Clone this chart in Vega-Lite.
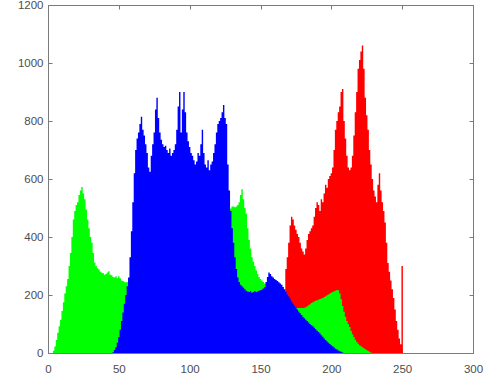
{
  "$schema": "https://vega.github.io/schema/vega-lite/v6.json",
  "width": 425,
  "height": 348,
  "autosize": {"type": "none"},
  "padding": {"left": 48, "top": 5, "right": 28, "bottom": 36},
  "background": "white",
  "config": {
    "view": {"stroke": "#7a7a7a", "strokeWidth": 1},
    "axis": {
      "grid": false, "domain": true, "domainColor": "#7a7a7a", "domainWidth": 1, "tickColor": "#7a7a7a", "tickSize": -4,
      "labelColor": "#4d4d4d", "labelFont": "Liberation Sans", "labelFontSize": 11.5, "title": null, "format": "d",
      "labelFlush": false, "labelOverlap": false
    }
  },
  "data": {"values": [
{"x":0,"r":0,"g":0,"b":0},{"x":1,"r":0,"g":0,"b":0},{"x":2,"r":0,"g":0,"b":0},{"x":3,"r":0,"g":0,"b":0},
{"x":4,"r":0,"g":8,"b":0},{"x":5,"r":0,"g":22,"b":0},{"x":6,"r":0,"g":45,"b":0},{"x":7,"r":0,"g":70,"b":0},
{"x":8,"r":0,"g":92,"b":0},{"x":9,"r":0,"g":115,"b":0},{"x":10,"r":0,"g":145,"b":0},{"x":11,"r":0,"g":175,"b":0},
{"x":12,"r":0,"g":205,"b":0},{"x":13,"r":0,"g":230,"b":0},{"x":14,"r":0,"g":255,"b":0},{"x":15,"r":0,"g":300,"b":0},
{"x":16,"r":0,"g":345,"b":0},{"x":17,"r":0,"g":400,"b":0},{"x":18,"r":0,"g":460,"b":0},{"x":19,"r":0,"g":490,"b":0},
{"x":20,"r":0,"g":510,"b":0},{"x":21,"r":0,"g":520,"b":0},{"x":22,"r":0,"g":545,"b":0},{"x":23,"r":0,"g":560,"b":0},
{"x":24,"r":0,"g":572,"b":0},{"x":25,"r":0,"g":550,"b":0},{"x":26,"r":0,"g":530,"b":0},{"x":27,"r":0,"g":495,"b":0},
{"x":28,"r":0,"g":460,"b":0},{"x":29,"r":0,"g":430,"b":0},{"x":30,"r":0,"g":400,"b":0},{"x":31,"r":0,"g":380,"b":0},
{"x":32,"r":0,"g":345,"b":0},{"x":33,"r":0,"g":312,"b":0},{"x":34,"r":0,"g":300,"b":0},{"x":35,"r":0,"g":292,"b":0},
{"x":36,"r":0,"g":288,"b":0},{"x":37,"r":0,"g":280,"b":0},{"x":38,"r":0,"g":277,"b":0},{"x":39,"r":0,"g":275,"b":0},
{"x":40,"r":0,"g":270,"b":0},{"x":41,"r":0,"g":272,"b":0},{"x":42,"r":0,"g":278,"b":0},{"x":43,"r":0,"g":282,"b":0},
{"x":44,"r":0,"g":270,"b":0},{"x":45,"r":0,"g":268,"b":0},{"x":46,"r":0,"g":262,"b":3},{"x":47,"r":0,"g":260,"b":10},
{"x":48,"r":0,"g":265,"b":20},{"x":49,"r":0,"g":258,"b":35},{"x":50,"r":0,"g":265,"b":55},{"x":51,"r":0,"g":258,"b":80},
{"x":52,"r":0,"g":250,"b":110},{"x":53,"r":0,"g":248,"b":140},{"x":54,"r":0,"g":245,"b":170},{"x":55,"r":0,"g":243,"b":200},
{"x":56,"r":0,"g":245,"b":230},{"x":57,"r":0,"g":248,"b":260},{"x":58,"r":0,"g":250,"b":330},{"x":59,"r":0,"g":252,"b":420},
{"x":60,"r":0,"g":255,"b":520},{"x":61,"r":0,"g":258,"b":620},{"x":62,"r":0,"g":260,"b":700},{"x":63,"r":0,"g":262,"b":740},
{"x":64,"r":0,"g":265,"b":760},{"x":65,"r":0,"g":268,"b":790},{"x":66,"r":0,"g":270,"b":815},{"x":67,"r":0,"g":272,"b":770},
{"x":68,"r":0,"g":275,"b":750},{"x":69,"r":0,"g":278,"b":720},{"x":70,"r":0,"g":280,"b":690},{"x":71,"r":0,"g":282,"b":640},
{"x":72,"r":0,"g":285,"b":625},{"x":73,"r":0,"g":288,"b":680},{"x":74,"r":0,"g":290,"b":720},{"x":75,"r":0,"g":292,"b":760},
{"x":76,"r":0,"g":295,"b":840},{"x":77,"r":0,"g":298,"b":880},{"x":78,"r":0,"g":300,"b":810},{"x":79,"r":0,"g":302,"b":760},
{"x":80,"r":0,"g":305,"b":735},{"x":81,"r":0,"g":308,"b":720},{"x":82,"r":0,"g":310,"b":710},{"x":83,"r":0,"g":312,"b":715},
{"x":84,"r":0,"g":315,"b":700},{"x":85,"r":0,"g":318,"b":690},{"x":86,"r":0,"g":320,"b":705},{"x":87,"r":0,"g":322,"b":680},
{"x":88,"r":0,"g":325,"b":690},{"x":89,"r":0,"g":328,"b":700},{"x":90,"r":0,"g":330,"b":720},{"x":91,"r":0,"g":333,"b":770},
{"x":92,"r":0,"g":336,"b":850},{"x":93,"r":0,"g":340,"b":900},{"x":94,"r":0,"g":343,"b":760},{"x":95,"r":0,"g":346,"b":840},
{"x":96,"r":0,"g":350,"b":900},{"x":97,"r":0,"g":353,"b":830},{"x":98,"r":0,"g":356,"b":760},{"x":99,"r":0,"g":360,"b":730},
{"x":100,"r":0,"g":363,"b":710},{"x":101,"r":0,"g":366,"b":690},{"x":102,"r":0,"g":370,"b":680},{"x":103,"r":0,"g":373,"b":665},
{"x":104,"r":0,"g":376,"b":650},{"x":105,"r":0,"g":380,"b":660},{"x":106,"r":0,"g":383,"b":690},{"x":107,"r":0,"g":386,"b":680},
{"x":108,"r":0,"g":390,"b":720},{"x":109,"r":0,"g":393,"b":770},{"x":110,"r":0,"g":396,"b":690},{"x":111,"r":0,"g":400,"b":650},
{"x":112,"r":0,"g":403,"b":640},{"x":113,"r":0,"g":406,"b":665},{"x":114,"r":0,"g":410,"b":630},{"x":115,"r":0,"g":413,"b":650},
{"x":116,"r":0,"g":416,"b":660},{"x":117,"r":0,"g":420,"b":690},{"x":118,"r":0,"g":425,"b":720},{"x":119,"r":0,"g":430,"b":760},
{"x":120,"r":0,"g":435,"b":790},{"x":121,"r":0,"g":440,"b":800},{"x":122,"r":0,"g":445,"b":810},{"x":123,"r":0,"g":450,"b":830},
{"x":124,"r":0,"g":455,"b":855},{"x":125,"r":0,"g":460,"b":810},{"x":126,"r":0,"g":470,"b":790},{"x":127,"r":0,"g":480,"b":650},
{"x":128,"r":0,"g":490,"b":560},{"x":129,"r":0,"g":498,"b":490},{"x":130,"r":0,"g":505,"b":430},{"x":131,"r":0,"g":505,"b":380},
{"x":132,"r":0,"g":503,"b":330},{"x":133,"r":0,"g":505,"b":290},{"x":134,"r":0,"g":510,"b":260},{"x":135,"r":0,"g":520,"b":245},
{"x":136,"r":0,"g":545,"b":235},{"x":137,"r":0,"g":565,"b":230},{"x":138,"r":0,"g":530,"b":225},{"x":139,"r":0,"g":500,"b":220},
{"x":140,"r":10,"g":480,"b":215},{"x":141,"r":15,"g":430,"b":212},{"x":142,"r":20,"g":390,"b":210},{"x":143,"r":25,"g":360,"b":213},
{"x":144,"r":30,"g":330,"b":208},{"x":145,"r":35,"g":315,"b":210},{"x":146,"r":40,"g":300,"b":214},{"x":147,"r":45,"g":285,"b":210},
{"x":148,"r":50,"g":272,"b":212},{"x":149,"r":55,"g":262,"b":215},{"x":150,"r":60,"g":255,"b":216},{"x":151,"r":70,"g":250,"b":218},
{"x":152,"r":80,"g":245,"b":222},{"x":153,"r":90,"g":240,"b":228},{"x":154,"r":100,"g":238,"b":245},{"x":155,"r":110,"g":235,"b":262},
{"x":156,"r":120,"g":225,"b":278},{"x":157,"r":130,"g":220,"b":272},{"x":158,"r":140,"g":215,"b":265},{"x":159,"r":150,"g":210,"b":260},
{"x":160,"r":160,"g":205,"b":255},{"x":161,"r":170,"g":200,"b":252},{"x":162,"r":180,"g":195,"b":248},{"x":163,"r":190,"g":190,"b":244},
{"x":164,"r":200,"g":185,"b":240},{"x":165,"r":205,"g":181,"b":235},{"x":166,"r":210,"g":178,"b":228},{"x":167,"r":215,"g":175,"b":220},
{"x":168,"r":290,"g":172,"b":210},{"x":169,"r":330,"g":168,"b":202},{"x":170,"r":380,"g":165,"b":195},{"x":171,"r":440,"g":162,"b":187},
{"x":172,"r":470,"g":160,"b":178},{"x":173,"r":460,"g":158,"b":170},{"x":174,"r":440,"g":155,"b":163},{"x":175,"r":425,"g":155,"b":156},
{"x":176,"r":410,"g":155,"b":150},{"x":177,"r":400,"g":155,"b":143},{"x":178,"r":380,"g":155,"b":137},{"x":179,"r":360,"g":155,"b":131},
{"x":180,"r":350,"g":155,"b":125},{"x":181,"r":340,"g":156,"b":120},{"x":182,"r":360,"g":158,"b":115},{"x":183,"r":390,"g":161,"b":110},
{"x":184,"r":410,"g":165,"b":105},{"x":185,"r":420,"g":168,"b":100},{"x":186,"r":430,"g":172,"b":96},{"x":187,"r":440,"g":175,"b":92},
{"x":188,"r":470,"g":178,"b":87},{"x":189,"r":500,"g":180,"b":82},{"x":190,"r":520,"g":182,"b":77},{"x":191,"r":510,"g":184,"b":72},
{"x":192,"r":490,"g":186,"b":67},{"x":193,"r":530,"g":188,"b":61},{"x":194,"r":520,"g":190,"b":56},{"x":195,"r":550,"g":193,"b":50},
{"x":196,"r":580,"g":196,"b":45},{"x":197,"r":570,"g":199,"b":40},{"x":198,"r":600,"g":202,"b":35},{"x":199,"r":610,"g":205,"b":31},
{"x":200,"r":620,"g":208,"b":27},{"x":201,"r":640,"g":210,"b":23},{"x":202,"r":700,"g":213,"b":19},{"x":203,"r":770,"g":215,"b":15},
{"x":204,"r":800,"g":217,"b":12},{"x":205,"r":830,"g":216,"b":9},{"x":206,"r":850,"g":205,"b":6},{"x":207,"r":900,"g":185,"b":4},
{"x":208,"r":910,"g":162,"b":2},{"x":209,"r":800,"g":142,"b":0},{"x":210,"r":740,"g":125,"b":0},{"x":211,"r":680,"g":110,"b":0},
{"x":212,"r":640,"g":100,"b":0},{"x":213,"r":630,"g":90,"b":0},{"x":214,"r":640,"g":76,"b":0},{"x":215,"r":680,"g":65,"b":0},
{"x":216,"r":750,"g":55,"b":0},{"x":217,"r":830,"g":46,"b":0},{"x":218,"r":900,"g":38,"b":0},{"x":219,"r":980,"g":32,"b":0},
{"x":220,"r":1010,"g":27,"b":0},{"x":221,"r":1040,"g":23,"b":0},{"x":222,"r":1060,"g":20,"b":0},{"x":223,"r":980,"g":16,"b":0},
{"x":224,"r":880,"g":13,"b":0},{"x":225,"r":820,"g":10,"b":0},{"x":226,"r":770,"g":7,"b":0},{"x":227,"r":700,"g":4,"b":0},
{"x":228,"r":650,"g":2,"b":0},{"x":229,"r":600,"g":0,"b":0},{"x":230,"r":560,"g":0,"b":0},{"x":231,"r":540,"g":0,"b":0},
{"x":232,"r":520,"g":0,"b":0},{"x":233,"r":580,"g":0,"b":0},{"x":234,"r":620,"g":0,"b":0},{"x":235,"r":560,"g":0,"b":0},
{"x":236,"r":520,"g":0,"b":0},{"x":237,"r":490,"g":0,"b":0},{"x":238,"r":450,"g":0,"b":0},{"x":239,"r":380,"g":0,"b":0},
{"x":240,"r":310,"g":0,"b":0},{"x":241,"r":280,"g":0,"b":0},{"x":242,"r":250,"g":0,"b":0},{"x":243,"r":220,"g":0,"b":0},
{"x":244,"r":190,"g":0,"b":0},{"x":245,"r":150,"g":0,"b":0},{"x":246,"r":110,"g":0,"b":0},{"x":247,"r":80,"g":0,"b":0},
{"x":248,"r":50,"g":0,"b":0},{"x":249,"r":30,"g":0,"b":0},{"x":250,"r":300,"g":0,"b":0},{"x":251,"r":0,"g":0,"b":0},
{"x":252,"r":0,"g":0,"b":0},{"x":253,"r":0,"g":0,"b":0},{"x":254,"r":0,"g":0,"b":0},{"x":255,"r":0,"g":0,"b":0}
  ]},
  "resolve": {"axis": {"x": "independent", "y": "independent"}},
  "layer": [
    {
      "mark": {"type": "area", "interpolate": "step", "color": "#ff0000"},
      "encoding": {
        "x": {"field": "x", "type": "quantitative", "scale": {"domain": [0, 300], "nice": false},
              "axis": {"orient": "bottom", "values": [0, 50, 100, 150, 200, 250, 300], "labelPadding": 14}},
        "y": {"field": "r", "type": "quantitative", "scale": {"domain": [0, 1200], "nice": false},
              "axis": {"orient": "left", "values": [0, 200, 400, 600, 800, 1000, 1200], "labelPadding": 9}}
      }
    },
    {
      "mark": {"type": "area", "interpolate": "step", "color": "#00ff00"},
      "encoding": {
        "x": {"field": "x", "type": "quantitative",
              "axis": {"orient": "top", "values": [0, 50, 100, 150, 200, 250, 300], "labels": false}},
        "y": {"field": "g", "type": "quantitative",
              "axis": {"orient": "right", "values": [0, 200, 400, 600, 800, 1000, 1200], "labels": false}}
      }
    },
    {
      "mark": {"type": "area", "interpolate": "step", "color": "#0000ff"},
      "encoding": {
        "x": {"field": "x", "type": "quantitative", "axis": null},
        "y": {"field": "b", "type": "quantitative", "axis": null}
      }
    }
  ]
}
